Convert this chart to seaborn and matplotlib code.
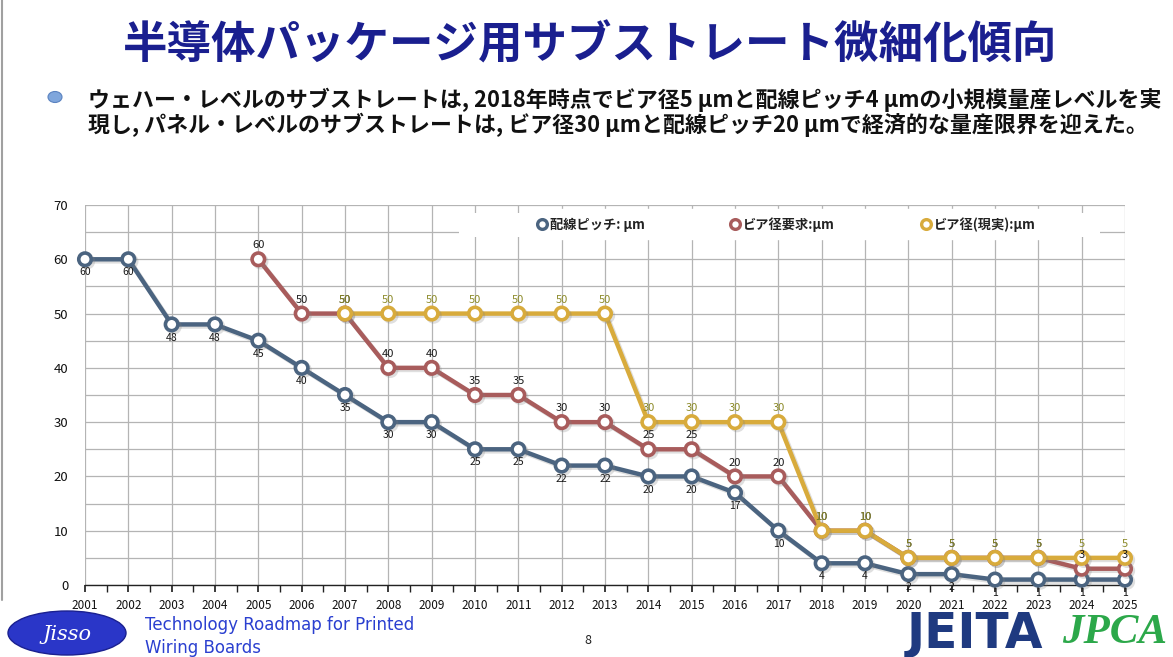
import numpy as np
import pandas as pd
import matplotlib
matplotlib.use("Agg")
import matplotlib.pyplot as plt
import matplotlib.patheffects as pe
from matplotlib.patches import Ellipse, Rectangle
from matplotlib.lines import Line2D
import seaborn as sns

# data
years = list(range(2001, 2026))
pitch = [60, 60, 48, 48, 45, 40, 35, 30, 30, 25, 25, 22, 22, 20, 20, 17, 10, 4, 4, 2, 2, 1, 1, 1, 1]
via_req_years = list(range(2005, 2026))
via_req = [60, 50, 50, 40, 40, 35, 35, 30, 30, 25, 25, 20, 20, 10, 10, 5, 5, 5, 5, 3, 3]
via_act_years = list(range(2007, 2026))
via_act = [50, 50, 50, 50, 50, 50, 50, 30, 30, 30, 30, 10, 10, 5, 5, 5, 5, 5, 5]

series_names = ["配線ピッチ: µm", "ビア径要求:µm", "ビア径(現実):µm"]
colors = ["#4b6480", "#a85c5c", "#d8ab3c"]
label_colors = ["#1a1a1a", "#1a1a1a", "#8c8a28"]

sns.set_theme(style="white")
plt.rcParams["font.family"] = ["Noto Sans CJK JP", "DejaVu Sans"]

W, H = 1173, 657
fig = plt.figure(figsize=(W / 100, H / 100), dpi=100)
fig.patch.set_facecolor("white")

def fx(px):
    return px / W

def fy(py):
    return 1 - py / H

# left page border
fig.add_artist(Line2D([fx(2), fx(2)], [fy(0), fy(600)], color="#a0a0a0", lw=1.5))

# title and bullet text
fig.text(fx(590), fy(46), "半導体パッケージ用サブストレート微細化傾向", ha="center", va="center",
         fontsize=32, fontweight="bold", color="#1a1f8f")
fig.patches.append(Ellipse((fx(55), fy(97)), fx(14), fy(0) - fy(11), transform=fig.transFigure,
                           facecolor="#7fa6dc", edgecolor="#5a82c0", lw=0.8))
fig.text(fx(88), fy(100), "ウェハー・レベルのサブストレートは, 2018年時点でビア径5 µmと配線ピッチ4 µmの小規模量産レベルを実",
         ha="left", va="center", fontsize=15.8, fontweight="bold", color="#111111")
fig.text(fx(88), fy(125), "現し, パネル・レベルのサブストレートは, ビア径30 µmと配線ピッチ20 µmで経済的な量産限界を迎えた。",
         ha="left", va="center", fontsize=15.8, fontweight="bold", color="#111111")

ax = fig.add_axes([fx(85), fy(585), fx(1125) - fx(85), fy(205) - fy(585)])
ax.set_facecolor("white")
ax.set_axisbelow(True)

df = pd.concat([
    pd.DataFrame({"year": years, "value": pitch, "series": series_names[0]}),
    pd.DataFrame({"year": via_req_years, "value": via_req, "series": series_names[1]}),
    pd.DataFrame({"year": via_act_years, "value": via_act, "series": series_names[2]}),
])

shadow = [pe.SimpleLineShadow(offset=(1.5, -1.5), alpha=0.25, shadow_color="gray"), pe.Normal()]
for name, c in zip(series_names, colors):
    sub = df[df["series"] == name]
    sns.lineplot(data=sub, x="year", y="value", ax=ax, color=c, lw=3.2,
                 marker="o", markersize=9, markerfacecolor="white", markeredgecolor=c,
                 markeredgewidth=2.6, clip_on=False, legend=False, path_effects=shadow, zorder=3)

# data labels
for x, v in zip(years, pitch):
    ax.annotate(str(v), (x, v), xytext=(0, -9.5), textcoords="offset points", ha="center", va="center",
                fontsize=7.5, color=label_colors[0], zorder=5, annotation_clip=False)
for x, v in zip(via_req_years, via_req):
    ax.annotate(str(v), (x, v), xytext=(0, 10), textcoords="offset points", ha="center", va="center",
                fontsize=8, color=label_colors[1], zorder=5, annotation_clip=False)
for x, v in zip(via_act_years, via_act):
    ax.annotate(str(v), (x, v), xytext=(0, 10), textcoords="offset points", ha="center", va="center",
                fontsize=8, color=label_colors[2], zorder=6, annotation_clip=False)

ax.set_xlim(2001, 2025)
ax.set_ylim(0, 70)
ax.set_xticks(years)
ax.set_xticklabels([str(y) for y in years], fontsize=8.5, color="#111111")
ax.set_xticks(np.arange(2001.5, 2025, 1), minor=True)
ax.set_yticks(range(0, 71, 10))
ax.set_yticklabels([str(v) for v in range(0, 71, 10)], fontsize=9.5, color="#111111")
ax.set_yticks(range(5, 70, 10), minor=True)
ax.grid(True, which="major", axis="both", color="#b4b4b4", lw=0.9)
ax.grid(True, which="minor", axis="y", color="#b4b4b4", lw=0.9)
ax.set_xlabel("")
ax.set_ylabel("")
for s in ["top", "right", "left"]:
    ax.spines[s].set_visible(False)
ax.spines["bottom"].set_color("#222222")
ax.spines["bottom"].set_linewidth(1.0)
ax.tick_params(axis="x", which="both", direction="out", length=5, color="#222222", bottom=True, pad=5)
ax.tick_params(axis="y", which="both", length=0, pad=12)

# white legend band covering the grid
ax.add_patch(Rectangle((0.36, 0.916), 0.616, 0.063, transform=ax.transAxes,
                       facecolor="white", edgecolor="none", zorder=1))
handles = [Line2D([], [], ls="none", marker="o", markersize=7, markerfacecolor="white",
                  markeredgecolor=c, markeredgewidth=2.4) for c in colors]
leg = ax.legend(handles, series_names, ncol=3, loc="upper center", bbox_to_anchor=(0.673, 1.0),
                frameon=True, fontsize=9.5, handletextpad=0.0, columnspacing=6.3,
                borderpad=0.6, handlelength=1.2, borderaxespad=0.3)
leg.get_frame().set_facecolor("white")
leg.get_frame().set_edgecolor("white")
leg.get_frame().set_alpha(1)
for t in leg.get_texts():
    t.set_fontweight("bold")
    t.set_color("#222222")

# footer
fig.patches.append(Ellipse((fx(67), fy(633)), fx(118), fy(611) - fy(655),
                           transform=fig.transFigure, facecolor="#2a36c8", edgecolor="#1a2090", lw=1))
fig.text(fx(67), fy(634), "Jisso", ha="center", va="center", fontsize=15, style="italic",
         color="white", family="DejaVu Serif")
fig.text(fx(145), fy(625), "Technology Roadmap for Printed", ha="left", va="center",
         fontsize=12, color="#2a3fd0", family="Liberation Sans Narrow")
fig.text(fx(145), fy(648), "Wiring Boards", ha="left", va="center",
         fontsize=12, color="#2a3fd0", family="Liberation Sans Narrow")
fig.text(fx(588), fy(640), "8", ha="center", va="center", fontsize=9, color="#222222")
fig.text(fx(975), fy(634), "JEITA", ha="center", va="center", fontsize=35, fontweight="heavy",
         color="#1f3a80", family="DejaVu Sans")
fig.text(fx(1115), fy(633), "JPCA", ha="center", va="center", fontsize=31, fontweight="bold",
         style="italic", color="#2ca84a", family="Liberation Serif")

fig.savefig("out.png", dpi=100)
